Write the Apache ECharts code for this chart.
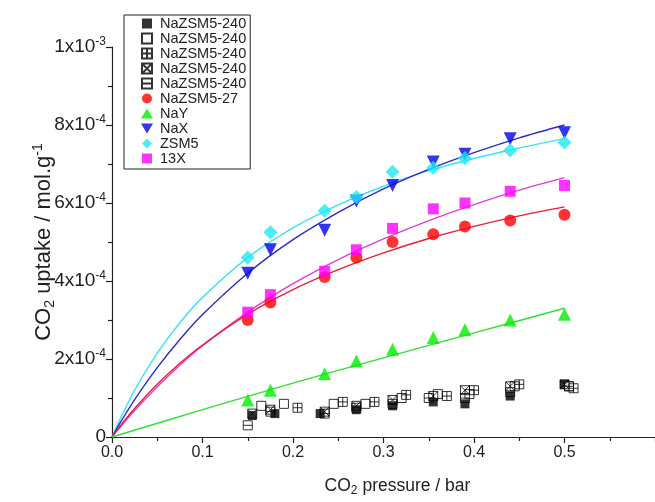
<!DOCTYPE html>
<html>
<head>
<meta charset="utf-8">
<script src="https://cdn.jsdelivr.net/npm/echarts@6/dist/echarts.min.js"></script>
<style>
  html, body { margin: 0; padding: 0; background: #fff; }
  #chart { width: 655px; height: 502px; }
</style>
</head>
<body>
<div id="chart"></div>
<script>
// CO2 uptake (mol/g) against CO2 pressure (bar)

// measured isotherm points
const zsm240aP = [0.155, 0.18, 0.23, 0.27, 0.31, 0.355, 0.39, 0.44, 0.50];
const zsm240aQ = [0.55e-4, 0.60e-4, 0.60e-4, 0.70e-4, 0.80e-4, 0.90e-4, 0.85e-4, 1.05e-4, 1.35e-4];

const zsm240bP = [0.165, 0.19, 0.245, 0.28, 0.32, 0.36, 0.395, 0.445, 0.505];
const zsm240bQ = [0.80e-4, 0.85e-4, 0.85e-4, 0.85e-4, 1.00e-4, 1.10e-4, 1.10e-4, 1.30e-4, 1.30e-4];

const zsm240cP = [0.205, 0.255, 0.29, 0.325, 0.37, 0.40, 0.45, 0.51];
const zsm240cQ = [0.75e-4, 0.90e-4, 0.90e-4, 1.08e-4, 1.05e-4, 1.20e-4, 1.35e-4, 1.25e-4];

const zsm240dP = [0.155, 0.175, 0.235, 0.27, 0.31, 0.355, 0.39, 0.44, 0.50];
const zsm240dQ = [0.60e-4, 0.70e-4, 0.65e-4, 0.80e-4, 0.95e-4, 1.05e-4, 1.20e-4, 1.30e-4, 1.35e-4];

const zsm240eP = [0.15, 0.175, 0.235, 0.27, 0.31, 0.35, 0.39, 0.44, 0.505];
const zsm240eQ = [0.30e-4, 0.65e-4, 0.60e-4, 0.75e-4, 0.85e-4, 1.00e-4, 1.00e-4, 1.15e-4, 1.30e-4];

const pointP = [0.15, 0.175, 0.235, 0.27, 0.31, 0.355, 0.39, 0.44, 0.50];
const zsm27Q = [3.00e-4, 3.45e-4, 4.10e-4, 4.60e-4, 5.00e-4, 5.20e-4, 5.40e-4, 5.55e-4, 5.70e-4];
const nayQ   = [0.95e-4, 1.20e-4, 1.62e-4, 1.95e-4, 2.25e-4, 2.55e-4, 2.75e-4, 3.00e-4, 3.15e-4];
const naxQ   = [4.20e-4, 4.80e-4, 5.30e-4, 6.05e-4, 6.45e-4, 7.05e-4, 7.25e-4, 7.65e-4, 7.80e-4];
const zsm5Q  = [4.60e-4, 5.25e-4, 5.80e-4, 6.15e-4, 6.80e-4, 6.90e-4, 7.15e-4, 7.35e-4, 7.55e-4];
const x13Q   = [3.20e-4, 3.65e-4, 4.25e-4, 4.80e-4, 5.35e-4, 5.85e-4, 6.00e-4, 6.30e-4, 6.45e-4];

// fitted isotherm curves
const fitP     = [0, 0.01, 0.025, 0.05, 0.075, 0.1, 0.15, 0.2, 0.25, 0.3, 0.35, 0.4, 0.45, 0.5];
const zsm5Fit  = [0, 0.51e-4, 1.20e-4, 2.15e-4, 2.93e-4, 3.58e-4, 4.60e-4, 5.36e-4, 5.95e-4, 6.43e-4, 6.83e-4, 7.14e-4, 7.41e-4, 7.65e-4];
const naxFit   = [0, 0.40e-4, 0.96e-4, 1.78e-4, 2.50e-4, 3.14e-4, 4.20e-4, 5.06e-4, 5.76e-4, 6.36e-4, 6.86e-4, 7.29e-4, 7.67e-4, 8.00e-4];
const x13Fit   = [0, 0.28e-4, 0.68e-4, 1.29e-4, 1.84e-4, 2.34e-4, 3.20e-4, 3.93e-4, 4.55e-4, 5.08e-4, 5.55e-4, 5.96e-4, 6.33e-4, 6.65e-4];
const zsm27Fit = [0, 0.31e-4, 0.73e-4, 1.35e-4, 1.89e-4, 2.36e-4, 3.15e-4, 3.78e-4, 4.29e-4, 4.72e-4, 5.09e-4, 5.40e-4, 5.67e-4, 5.90e-4];
const nayFitP  = [0, 0.1, 0.2, 0.3, 0.4, 0.5];
const nayFit   = [0, 0.70e-4, 1.38e-4, 2.03e-4, 2.67e-4, 3.30e-4];

// legend labels (the five NaZSM5-240 runs share one label)
const legendLabels = ['NaZSM5-240', 'NaZSM5-240', 'NaZSM5-240', 'NaZSM5-240', 'NaZSM5-240',
                      'NaZSM5-27', 'NaY', 'NaX', 'ZSM5', '13X'];

const pairs = (xs, ys) => xs.map((x, i) => [x, ys[i]]);
// series ids differ by trailing spaces so that repeated labels stay separate legend entries
const seriesIds = legendLabels.map((l, i) => l + ' '.repeat(legendLabels.slice(0, i).filter(v => v === l).length));

const FONT = 'Liberation Sans, Arial, sans-serif';
const square   = 'path://M0,0 L10,0 L10,10 L0,10 Z';
const boxPlus  = 'path://M0,0 L10,0 L10,10 L0,10 Z M5,0 L5,10 M0,5 L10,5';
const boxCross = 'path://M0,0 L10,0 L10,10 L0,10 Z M0,0 L10,10 M10,0 L0,10';
const boxMinus = 'path://M0,0 L10,0 L10,10 L0,10 Z M0,5 L10,5';
const downTri  = 'path://M0,0 L12,0 L6,10 Z';
const upTri    = 'path://M6,0 L12,10 L0,10 Z';
const diamond  = 'path://M6,0 L12,6 L6,12 L0,6 Z';
const dot      = 'circle';

// legend icons, one per entry
const legendIcons = [square, square, boxPlus, boxCross, boxMinus, dot, upTri, downTri, diamond, square];

const openStyle = { color: 'rgba(255,255,255,0)', borderColor: '#000', borderWidth: 1 };

function scatter(idx, xs, ys, symbol, size, itemStyle, extra) {
  return Object.assign({
    type: 'scatter', name: seriesIds[idx], data: pairs(xs, ys),
    symbol: symbol, symbolSize: size, itemStyle: itemStyle, z: 3
  }, extra || {});
}
function fit(name, xs, ys, color) {
  return {
    type: 'line', name: name, data: pairs(xs, ys), smooth: 0.3, showSymbol: false,
    lineStyle: { color: color, width: 1.4 }, z: 2, silent: true
  };
}

const yFormatter = v => {
  if (v === 0) return '0';
  if (Math.abs(v - 1e-3) < 1e-9) return '1x10{s|-3}';
  return Math.round(v * 1e4) + 'x10{s|-4}';
};

const chart = echarts.init(document.getElementById('chart'), null, { renderer: 'canvas' });
chart.setOption({
  backgroundColor: '#fff',
  animation: false,
  grid: { left: 112, top: 47, width: 543, bottom: 65, containLabel: false, outerBoundsMode: 'none' },
  xAxis: {
    type: 'value', min: 0, max: 0.6, interval: 0.1,
    axisLine: { lineStyle: { color: '#222', width: 1.2 } },
    axisTick: { length: 6, lineStyle: { color: '#222', width: 1.2 } },
    minorTick: { show: true, splitNumber: 2, length: 4, lineStyle: { color: '#222', width: 1.2 } },
    splitLine: { show: false },
    axisLabel: { color: '#222', fontSize: 16, fontFamily: FONT, margin: 8, showMaxLabel: false,
                 formatter: v => v.toFixed(1) },
    name: '{n|CO}{b|2}{n| pressure / bar}', nameLocation: 'middle', nameGap: 38,
    nameTextStyle: {
      padding: [0, 0, 0, 28],
      rich: {
        n: { fontSize: 17.5, fontFamily: FONT, color: '#222' },
        b: { fontSize: 12, fontFamily: FONT, color: '#222', padding: [10, 0, 0, 0] }
      }
    }
  },
  yAxis: {
    type: 'value', min: 0, max: 1e-3, interval: 2e-4,
    axisLine: { show: true, lineStyle: { color: '#222', width: 1.2 } },
    axisTick: { show: true, length: 6, lineStyle: { color: '#222', width: 1.2 } },
    minorTick: { show: true, splitNumber: 2, length: 4, lineStyle: { color: '#222', width: 1.2 } },
    splitLine: { show: false },
    axisLabel: {
      color: '#222', fontSize: 19, fontFamily: FONT, margin: 6, formatter: yFormatter,
      rich: { s: { fontSize: 12, fontFamily: FONT, color: '#222', padding: [0, 0, 11, 0] } }
    },
    name: '{n|CO}{b|2}{n| uptake / mol.g}{s|-1}', nameLocation: 'middle', nameRotate: 90, nameGap: 55,
    nameMoveOverlap: false,
    nameTextStyle: {
      rich: {
        n: { fontSize: 22, fontFamily: FONT, color: '#222' },
        b: { fontSize: 14, fontFamily: FONT, color: '#222', padding: [12, 0, 0, 0] },
        s: { fontSize: 14, fontFamily: FONT, color: '#222', padding: [0, 0, 12, 0] }
      }
    }
  },
  legend: {
    orient: 'vertical', left: 124, top: 15,
    data: seriesIds.map((id, i) => ({ name: id, icon: legendIcons[i] })),
    formatter: name => name.replace(/\s+$/, ''),
    backgroundColor: '#fff', borderColor: '#222', borderWidth: 1, borderRadius: 0,
    padding: [1, 4, 3, 17],
    itemWidth: 16, itemHeight: 10, itemGap: 0,
    textStyle: { color: '#222', fontSize: 14.5, fontFamily: FONT, lineHeight: 13 }
  },
  series: [
    fit('ZSM5 fit', fitP, zsm5Fit, '#3ce4ee'),
    fit('NaX fit', fitP, naxFit, '#2a2ac8'),
    fit('13X fit', fitP, x13Fit, '#e23cd8'),
    fit('NaZSM5-27 fit', fitP, zsm27Fit, '#ee1c34'),
    fit('NaY fit', nayFitP, nayFit, '#30e030'),

    scatter(0, zsm240aP, zsm240aQ, 'rect', 9, { color: '#000' }),
    scatter(1, zsm240bP, zsm240bQ, 'rect', 9, { color: '#fff', borderColor: '#000', borderWidth: 1 }),
    scatter(2, zsm240cP, zsm240cQ, boxPlus, 9, openStyle),
    scatter(3, zsm240dP, zsm240dQ, boxCross, 9, openStyle),
    scatter(4, zsm240eP, zsm240eQ, boxMinus, 9, openStyle),
    scatter(5, pointP, zsm27Q, 'circle', 12, { color: '#ff0000' }),
    scatter(6, pointP, nayQ, 'triangle', 13, { color: '#00ee00' }),
    scatter(7, pointP, naxQ, 'triangle', 13, { color: '#0000ee' }, { symbolRotate: 180 }),
    scatter(8, pointP, zsm5Q, 'rect', 10, { color: '#22e8f2' }, { symbolRotate: 45 }),
    scatter(9, pointP, x13Q, 'rect', 11, { color: '#ff00ff' })
  ]
});
</script>
</body>
</html>
